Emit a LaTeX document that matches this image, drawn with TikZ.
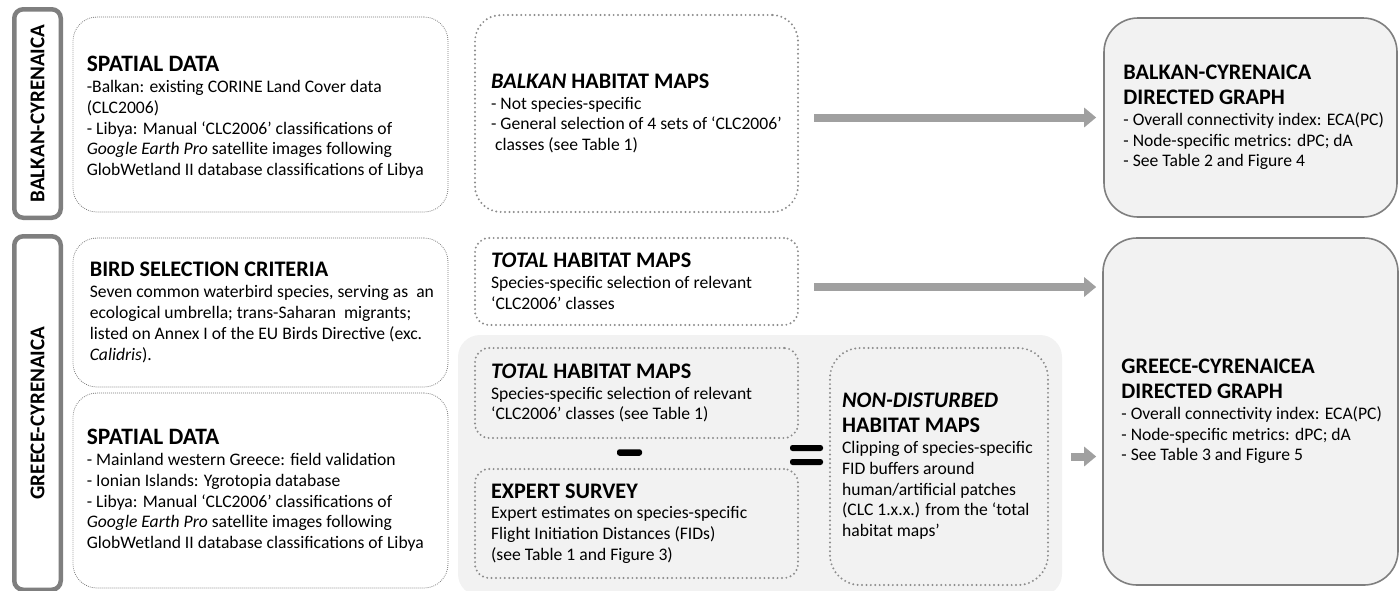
\documentclass[tikz,border=0pt]{standalone}
\usepackage{fontspec}
\setmainfont{Carlito}
\usetikzlibrary{arrows.meta}

\definecolor{labgray}{RGB}{127,127,127}
\definecolor{thingray}{RGB}{120,120,120}
\definecolor{dotgray}{RGB}{140,140,140}
\definecolor{boxfill}{RGB}{242,242,242}
\definecolor{arrgray}{RGB}{160,160,160}

\newcommand{\hd}[1]{{\fontsize{22.2}{24}\selectfont\bfseries #1}}
\newcommand{\hdbig}[1]{{\fontsize{23.5}{24}\selectfont\bfseries #1}}

\begin{document}
\begin{tikzpicture}[x=1pt, y=-1pt,
  lab/.style = {draw=labgray, line width=4.5pt, rounded corners=9pt, fill=white, rotate=90, inner sep=0pt, font=\fontsize{21}{24}\selectfont\bfseries},
  thinbox/.style = {draw=thingray, line width=0.8pt, dash pattern=on 0.8pt off 1.2pt, rounded corners=24pt, inner sep=0pt},
  dotbox/.style = {draw=dotgray, line width=2.2pt, line cap=round, dash pattern=on 0pt off 4.4pt, inner sep=0pt},
  graphbox/.style = {draw=labgray, line width=1.6pt, fill=boxfill, rounded corners=34pt, inner sep=0pt},
  panel/.style = {fill=boxfill, rounded corners=22pt, inner sep=0pt},
  txt/.style = {align=left, inner sep=0pt, anchor=west, font=\fontsize{17.6}{20.8}\selectfont},
  bigarrow/.style = {draw=arrgray, line width=8pt, -{Triangle[length=12pt, width=19pt]}},
  opbar/.style = {fill=black, rounded corners=2.5pt, minimum height=6.5pt, inner sep=0pt}]
	\useasboundingbox (0,0) rectangle (1400,590);
	
	% study areas
	\node[lab, minimum width=208.5pt, minimum height=46.5pt] (lbc) at (37.5,113.5) {BALKAN-CYRENAICA};
	\node[lab, minimum width=353.5pt, minimum height=46.5pt] (lgc) at (37.5,413) {GREECE-CYRENAICA};
	
	% input data
	\node[thinbox, minimum width=375pt, minimum height=195pt] (sp1) at (260.5,114.5) {};
	\node[txt] (sp1t) at ([xshift=14pt,yshift=-3pt]sp1.west) {\hdbig{SPATIAL DATA}\\
		-Balkan: existing CORINE Land Cover data\\
		(CLC2006)\\
		- Libya: Manual ‘CLC2006’ classifications of\\
		\textit{Google Earth Pro} satellite images following\\
		GlobWetland II database classifications of Libya};
	\node[thinbox, minimum width=375pt, minimum height=149pt] (bird) at (260.5,312.5) {};
	\node[txt] (birdt) at ([xshift=17pt]bird.west) {\hd{BIRD SELECTION CRITERIA}\\
		Seven common waterbird species, serving as \ an\\
		ecological umbrella; trans-Saharan \ migrants;\\
		listed on Annex I of the EU Birds Directive (exc.\\
		\textit{Calidris}).};
	\node[thinbox, minimum width=375pt, minimum height=195pt] (sp2) at (260.5,490.5) {};
	\node[txt] (sp2t) at ([xshift=14pt]sp2.west) {\hdbig{SPATIAL DATA}\\
		- Mainland western Greece: field validation\\
		- Ionian Islands: Ygrotopia database\\
		- Libya: Manual ‘CLC2006’ classifications of\\
		\textit{Google Earth Pro} satellite images following\\
		GlobWetland II database classifications of Libya};
	
	% habitat maps
	\node[panel, minimum width=604pt, minimum height=261pt] (pan) at (760,465.5) {};
	\node[dotbox, rounded corners=26pt, minimum width=323pt, minimum height=197pt] (bhab) at (636.5,113.5) {};
	\node[txt] (bhabt) at ([xshift=17pt]bhab.west) {\hd{\textit{BALKAN} HABITAT MAPS}\\
		- Not species-specific\\
		- General selection of 4 sets of ‘CLC2006’\\
		\ classes (see Table 1)};
	\node[dotbox, rounded corners=14pt, minimum width=323pt, minimum height=87pt] (tot1) at (636.5,281.5) {};
	\node[txt] (tot1t) at ([xshift=17pt]tot1.west) {\hd{\textit{TOTAL} HABITAT MAPS}\\
		Species-specific selection of relevant\\
		‘CLC2006’ classes};
	\node[dotbox, rounded corners=14pt, minimum width=323pt, minimum height=90pt] (tot2) at (636.5,393) {};
	\node[txt] (tot2t) at ([xshift=17pt]tot2.west) {\hd{\textit{TOTAL} HABITAT MAPS}\\
		Species-specific selection of relevant\\
		‘CLC2006’ classes (see Table 1)};
	\node[opbar, minimum width=25pt] (minus) at (629.5,452.5) {};
	\node[dotbox, rounded corners=14pt, minimum width=323pt, minimum height=109pt] (exp) at (636.5,523.5) {};
	\node[txt] (expt) at ([xshift=17pt]exp.west) {\hd{EXPERT SURVEY}\\
		Expert estimates on species-specific\\
		Flight Initiation Distances (FIDs)\\
		(see Table 1 and Figure 3)};
	\node[opbar, minimum width=33pt, minimum height=6pt] (eq1) at (806.5,448) {};
	\node[opbar, minimum width=33pt, minimum height=6pt] (eq2) at (806.5,462) {};
	\node[dotbox, rounded corners=30pt, minimum width=218pt, minimum height=237pt] (nd) at (939,466.5) {};
	\node[txt] (ndt) at ([xshift=13pt]nd.west) {\hd{\textit{NON-DISTURBED}}\\[4pt]
		\hd{HABITAT MAPS}\\
		Clipping of species-specific\\
		FID buffers around\\
		human/artificial patches\\
		(CLC 1.x.x.) from the ‘total\\
		habitat maps’};
	
	% graphs
	\node[graphbox, minimum width=293pt, minimum height=199pt] (bg) at (1250.5,117.5) {};
	\node[txt] (bgt) at ([xshift=20pt]bg.west) {\hd{BALKAN-CYRENAICA}\\[4pt]
		\hd{DIRECTED GRAPH}\\
		- Overall connectivity index: ECA(PC)\\
		- Node-specific metrics: dPC; dA\\
		- See Table 2 and Figure 4};
	\node[graphbox, minimum width=295pt, minimum height=347pt] (gg) at (1250.5,411.5) {};
	\node[txt] (ggt) at ([xshift=19pt]gg.west) {\hd{GREECE-CYRENAICEA}\\[4pt]
		\hd{DIRECTED GRAPH}\\
		- Overall connectivity index: ECA(PC)\\
		- Node-specific metrics: dPC; dA\\
		- See Table 3 and Figure 5};
	
	\draw[bigarrow, shorten <=15pt, shorten >=7pt] (bhab.east |- bg.west) -- (bg.west);
	\draw[bigarrow, shorten <=15pt, shorten >=6pt] ([yshift=-5.5pt]tot1.east) -- ([yshift=-5.5pt]tot1.east -| gg.west);
	\draw[bigarrow, shorten <=22pt, shorten >=6pt] ([yshift=10pt]nd.east) -- ([yshift=10pt]nd.east -| gg.west);
\end{tikzpicture}
\end{document}
